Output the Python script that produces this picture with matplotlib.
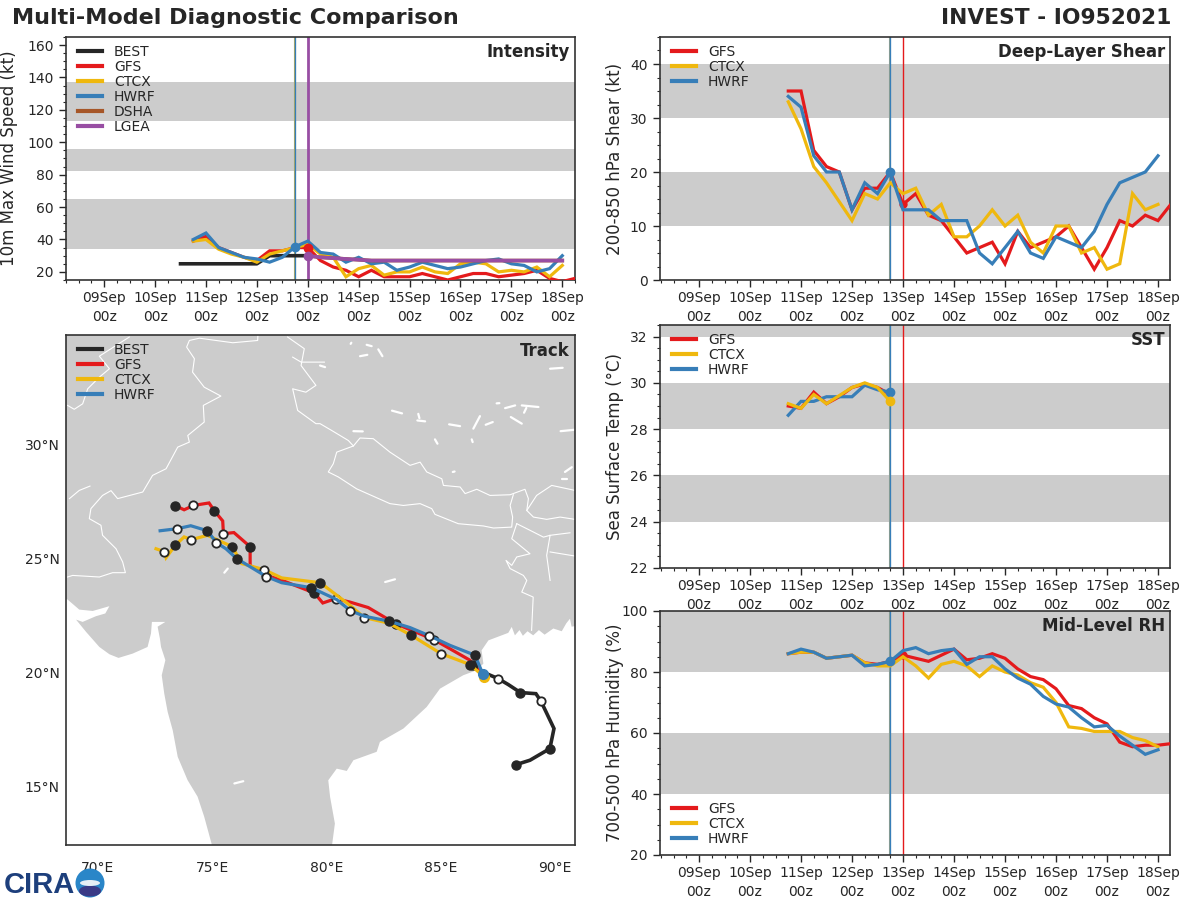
import matplotlib
matplotlib.use("Agg")
import matplotlib.pyplot as plt
import numpy as np
from matplotlib.ticker import MultipleLocator
from matplotlib.patches import Circle, Ellipse

C_BEST, C_GFS, C_CTCX, C_HWRF, C_DSHA, C_LGEA = '#262626', '#e41a1c', '#efb80e', '#377eb8', '#a65628', '#984ea3'
GRAY = '#cccccc'
TXT = '#262626'

DAY_LABELS = ['09Sep\n00z', '10Sep\n00z', '11Sep\n00z', '12Sep\n00z', '13Sep\n00z',
              '14Sep\n00z', '15Sep\n00z', '16Sep\n00z', '17Sep\n00z', '18Sep\n00z']

# forecast hours expressed as days after 09Sep 00z
T_START = 1.75
T_STEP = 0.25

# Intensity (kt)
BEST_T = [1.5, 1.75, 2.0, 2.25, 2.5, 2.75, 3.0, 3.25, 3.5, 3.75, 4.0]
BEST_V = [25, 25, 25, 25, 25, 25, 25, 30, 30, 30, 30]
INT_GFS = [39, 42, 35, 32, 29, 27, 33, 33, 35, 35, 27, 23, 21, 17, 21, 17, 17, 17, 19, 17, 15, 17, 19, 19, 17, 18, 19, 21, 16, 14, 16]
INT_CTCX = [39, 40, 34, 31, 29, 26, 31, 33, 35, 37, 31, 29, 17, 22, 24, 18, 20, 20, 23, 20, 19, 25, 26, 25, 20, 21, 20, 23, 17, 24]
INT_HWRF = [40, 44, 35, 32, 29, 28, 26, 29, 35.5, 39, 32, 31, 26, 29, 25, 26, 21, 23, 26, 24, 22, 23, 25, 27, 28, 25, 24, 20, 22, 30]
INT_DSHA = [30, 29, 28.5, 28, 27.5, 27, 27, 27, 27, 27, 27, 27, 27, 27, 27, 27, 27, 27, 27, 27, 27]
INT_LGEA = [30, 29, 28.5, 28, 27.5, 27, 27, 27, 27, 27, 27, 27, 27, 27, 27, 27, 27, 27, 27, 27, 27]

# Shear (kt)
SHR_GFS = [35, 35, 24, 21, 20, 13, 17, 17, 20, 14, 16, 12, 11, 8, 5, 6, 7, 3, 9, 6, 7, 8, 10, 6, 2, 6, 11, 10, 12, 11, 14]
SHR_CTCX = [33, 28, 21, 18, 14.5, 11, 16, 15, 18, 16, 17, 12, 14, 8, 8, 10, 13, 10, 12, 7, 5, 10, 10, 5, 6, 2, 3, 16, 13, 14]
SHR_HWRF = [34, 32, 23, 20, 20, 13, 18, 16, 20, 13, 13, 13, 11, 11, 11, 5, 3, 6, 9, 5, 4, 8, 7, 6, 9, 14, 18, 19, 20, 23]

# SST (deg C)
SST_GFS = [29.0, 28.9, 29.6, 29.1, 29.4, 29.8, 29.95, 29.8, 29.5]
SST_CTCX = [29.1, 28.9, 29.5, 29.1, 29.45, 29.8, 30.0, 29.8, 29.2]
SST_HWRF = [28.6, 29.2, 29.2, 29.4, 29.4, 29.4, 29.9, 29.7, 29.6]

# Mid-level RH (%)
RH_GFS = [86, 86.5, 86.5, 84.5, 85, 85.5, 83, 82.5, 83.5, 85.5, 84.5, 83.5, 85.5, 87.5, 84, 84.5, 86, 84.5, 81, 78.5, 77.5, 74.5, 69, 68, 65, 63, 57, 55.5, 56, 56, 56.5]
RH_CTCX = [86, 86.5, 86.5, 84.5, 85, 85.5, 83, 82, 82, 85, 82, 78, 82.5, 83.5, 82, 78.5, 82, 80, 79, 76.5, 75, 70, 62, 61.5, 60.5, 60.5, 60.5, 58.5, 57.5, 55.5]
RH_HWRF = [86, 87.5, 86.5, 84.5, 85, 85.5, 82, 82.5, 83.5, 87, 88, 86, 87, 87.5, 82.5, 85, 85, 81, 78, 76, 72, 69.5, 68.5, 65, 62, 62.5, 59, 56, 53, 54.5]

# Tracks
BEST_LON = [88.31, 88.91, 89.78, 89.96, 89.39, 89.17, 88.49, 87.96, 87.52, 86.84]
BEST_LAT = [15.95, 16.14, 16.65, 17.53, 18.73, 19.06, 19.11, 19.46, 19.72, 20.01]
BEST_FILLED, BEST_OPEN = [0, 2, 6], [4, 8]
GFS_LON = [86.84, 86.43, 86.28, 84.71, 83.03, 81.83, 81.03, 80.40, 79.84, 79.47, 78.04, 77.37, 76.66, 76.66, 75.95, 75.49, 75.46, 75.09, 74.86, 74.18, 73.77, 73.39]
GFS_LAT = [19.94, 20.34, 20.53, 21.43, 22.13, 22.84, 23.08, 23.23, 23.04, 23.48, 24.04, 24.25, 24.69, 25.51, 26.13, 26.08, 26.64, 27.09, 27.43, 27.32, 27.13, 27.31]
GFS_FILLED, GFS_OPEN = [1, 4, 9, 13, 17, 21], [3, 7, 11, 15, 19]
CTCX_LON = [86.90, 86.28, 85.01, 83.72, 82.71, 81.66, 81.03, 79.73, 78.04, 77.28, 76.29, 75.88, 74.79, 74.09, 73.77, 73.39, 72.98, 72.91, 72.54]
CTCX_LAT = [19.80, 20.34, 20.82, 21.62, 22.16, 22.40, 22.94, 23.93, 24.14, 24.50, 24.77, 25.51, 26.01, 25.82, 25.94, 25.58, 25.03, 25.29, 25.42]
CTCX_FILLED, CTCX_OPEN = [1, 3, 7, 11, 15], [2, 5, 9, 13, 17]
HWRF_LON = [86.84, 86.50, 85.41, 84.49, 83.66, 82.75, 81.66, 81.05, 80.45, 79.34, 78.04, 77.37, 76.07, 75.60, 75.18, 74.79, 74.06, 73.47, 72.72]
HWRF_LAT = [19.94, 20.75, 21.18, 21.61, 21.96, 22.24, 22.46, 22.70, 23.19, 23.71, 23.93, 24.20, 24.99, 25.42, 25.69, 26.21, 26.43, 26.30, 26.21]
HWRF_FILLED, HWRF_OPEN = [1, 5, 9, 12, 15], [3, 7, 11, 14, 17]

# Map
LAND_LON = [68.4, 68.67, 69.18, 69.77, 70.50, 70.32, 69.91, 69.33, 69.04, 69.48, 70.06, 70.50, 70.90, 71.52, 72.17, 72.32, 72.36, 72.95, 72.61, 72.71, 72.76, 72.95, 72.79, 72.90, 73.05, 73.27, 73.49, 73.92, 74.36, 74.65, 75.02,
            80.23, 80.37, 80.16, 80.08, 80.45, 80.89, 81.18, 82.20, 82.34, 83.37, 84.39, 84.97, 85.99, 86.58, 86.87, 86.79, 87.09, 87.96, 88.11, 88.25, 88.45, 88.60, 88.80, 89.05, 89.30, 89.55, 89.93, 90.30, 90.50, 90.66, 90.73, 91.10, 91.10, 68.4]
LAND_LAT = [23.3, 23.19, 22.75, 22.69, 22.90, 22.58, 22.46, 22.21, 22.31, 21.77, 21.11, 20.79, 20.63, 20.82, 21.11, 21.70, 22.21, 22.21, 22.00, 21.48, 21.11, 20.53, 19.87, 19.07, 18.26, 17.46, 16.29, 15.27, 14.54, 13.66, 12.3,
            12.3, 13.36, 14.53, 15.26, 15.77, 15.67, 16.14, 16.51, 16.94, 17.53, 18.48, 19.28, 19.87, 20.09, 20.38, 20.96, 21.40, 21.73, 21.99, 21.62, 21.85, 21.60, 21.80, 21.62, 21.85, 21.65, 21.92, 21.80, 22.15, 22.35, 22.00, 22.06, 35.0, 35.0]

BORDERS = [
    ([68.67, 68.89, 70.06, 70.64, 71.20, 71.08, 70.79, 70.20, 70.13, 69.62, 69.69, 70.20, 70.57, 70.86, 71.96, 72.39, 72.98, 73.49, 74.00, 73.93, 74.65, 74.61, 75.38, 74.65, 74.14, 74.22, 73.88, 74.00, 74.44, 75.90, 76.99, 77.0],
     [24.18, 24.25, 24.18, 24.37, 24.37, 24.84, 25.42, 26.01, 26.45, 26.74, 27.18, 27.76, 27.97, 27.62, 27.91, 28.64, 28.93, 29.88, 30.10, 30.39, 30.98, 31.71, 32.12, 32.51, 33.17, 33.76, 34.27, 34.56, 34.66, 34.46, 34.56, 34.8]),
    ([68.67, 68.96, 69.33, 69.55, 70.06, 70.50, 70.06, 70.79, 71.37],
     [31.71, 31.54, 31.78, 32.44, 32.95, 33.32, 33.87, 34.34, 34.71]),
    ([78.30, 79.03, 78.89, 79.54, 79.10, 78.52, 78.74, 79.54, 79.72, 80.23, 80.96, 81.18, 81.47, 82.05, 82.78, 83.66, 84.10, 84.39, 85.05, 85.12, 85.85, 86.07, 86.58, 87.16, 88.04, 88.69, 88.84, 88.77, 89.06, 89.64, 90.23, 90.88],
     [34.71, 34.20, 33.46, 32.59, 32.29, 32.44, 31.49, 30.91, 30.91, 30.61, 30.17, 29.93, 30.28, 30.25, 29.66, 29.08, 29.22, 28.79, 28.49, 28.20, 28.13, 27.84, 28.03, 27.76, 27.79, 28.03, 27.62, 27.10, 26.81, 26.71, 26.81, 26.71]),
    ([78.52, 78.89, 79.91], [33.83, 33.61, 33.61]),
    ([81.18, 80.45, 80.30, 80.08, 80.52, 81.32, 82.78, 83.37, 84.10, 84.61, 84.75, 85.77, 86.87, 87.31, 88.11, 88.15, 88.04, 88.18],
     [29.93, 29.66, 29.15, 28.79, 28.57, 28.05, 27.40, 27.32, 27.40, 27.18, 26.93, 26.52, 26.42, 26.33, 26.37, 26.81, 27.32, 27.79]),
    ([88.77, 89.20, 89.86, 90.88], [27.10, 27.76, 28.20, 27.98]),
    ([88.33, 88.11, 88.91, 88.33, 88.11, 87.86, 88.04, 88.62, 88.77, 88.55, 89.05, 88.98],
     [26.52, 25.86, 25.20, 25.06, 24.69, 24.91, 24.55, 24.25, 24.03, 23.52, 23.30, 21.84]),
    ([88.33, 88.91, 89.50, 89.79, 89.64, 89.79], [26.52, 26.23, 25.93, 26.01, 25.13, 24.03]),
    ([89.79, 90.88], [25.28, 25.10]),
    ([89.79, 90.66], [26.01, 26.12]),
    ([68.75, 69.18, 69.65], [27.62, 27.98, 28.17]),
]
LAKES = [
    (82.87, 31.48, 83.31, 31.36), (83.98, 31.05, 84.32, 31.01), (84.02, 31.34, 84.07, 31.15), (85.37, 30.88, 85.85, 30.80),
    (86.43, 30.69, 86.72, 31.24), (86.97, 30.86, 87.28, 30.98), (87.82, 31.59, 88.26, 31.71), (88.55, 31.71, 89.28, 31.64),
    (88.65, 31.39, 88.75, 31.60), (88.07, 31.20, 88.55, 30.91), (90.25, 30.58, 90.84, 30.64), (81.18, 30.58, 81.59, 30.57),
    (89.79, 33.32, 90.34, 33.36), (87.45, 31.80, 87.57, 31.81), (90.30, 28.46, 90.52, 28.46), (85.53, 28.79, 85.61, 28.81),
    (84.75, 30.22, 84.86, 30.03), (86.36, 30.22, 86.40, 30.10), (82.57, 23.96, 83.00, 24.08), (79.72, 33.46, 79.94, 33.39),
    (81.47, 33.87, 81.79, 33.93), (82.27, 34.17, 82.45, 33.87), (81.76, 34.37, 81.98, 34.31), (81.06, 34.41, 81.09, 34.46),
    (90.44, 28.79, 90.74, 29.00), (75.53, 24.37, 75.68, 24.55), (75.97, 15.12, 76.36, 15.22),
]
LON_TICKS = [70, 75, 80, 85, 90]
LAT_TICKS = [15, 20, 25, 30]

plt.rcParams['font.family'] = 'DejaVu Sans'
plt.rcParams['text.color'] = TXT
plt.rcParams['axes.labelcolor'] = TXT
plt.rcParams['xtick.color'] = TXT
plt.rcParams['ytick.color'] = TXT

W, H = 1200, 900
fig = plt.figure(figsize=(12, 9), dpi=100, facecolor='white')


def make_ax(x0, y0, x1, y1):
    ax = fig.add_axes([x0 / W, 1 - y1 / H, (x1 - x0) / W, (y1 - y0) / H])
    for s in ax.spines.values():
        s.set_color('#333333')
        s.set_linewidth(1.2)
    return ax


def times(vals):
    return T_START + T_STEP * np.arange(len(vals))


def ts_axes(box, xlim, ylim, ymajor, yminor, bands, ylabel, title, label_x):
    ax = make_ax(*box)
    for lo, hi in bands:
        ax.axhspan(lo, hi, color=GRAY, lw=0, zorder=0)
    ax.set_xlim(*xlim)
    ax.set_ylim(*ylim)
    ax.set_xticks(range(10))
    ax.set_xticklabels(DAY_LABELS, fontsize=10, linespacing=1.4)
    ax.xaxis.set_minor_locator(MultipleLocator(0.25))
    ax.yaxis.set_major_locator(MultipleLocator(ymajor))
    ax.yaxis.set_minor_locator(MultipleLocator(yminor))
    ax.tick_params(axis='y', which='major', length=5, width=1, labelsize=10, pad=4)
    ax.tick_params(axis='x', which='major', length=5, width=1, pad=3)
    ax.tick_params(axis='both', which='minor', length=2.5, width=0.8)
    ax.set_ylabel(ylabel, fontsize=12)
    ax.yaxis.set_label_coords((label_x - box[0]) / (box[2] - box[0]), 0.5)
    ax.text(0.99, 0.975, title, transform=ax.transAxes, ha='right', va='top',
            fontsize=12, fontweight='bold', color=TXT, zorder=9)
    return ax


def model_lines(ax, g, c, h, lw=2.3):
    ax.plot(times(g), g, color=C_GFS, lw=lw, label='GFS', zorder=3, solid_joinstyle='miter')
    ax.plot(times(c), c, color=C_CTCX, lw=lw, label='CTCX', zorder=4, solid_joinstyle='miter')
    ax.plot(times(h), h, color=C_HWRF, lw=lw, label='HWRF', zorder=5, solid_joinstyle='miter')


def vlines(ax, c1=C_GFS, w=1.0, under='#8f9f8f'):
    ax.axvline(3.75, color=under, lw=1.5, zorder=2)
    ax.axvline(3.75, color=C_HWRF, lw=0.9, zorder=2.1)
    ax.axvline(4.0, color=c1, lw=w, zorder=2)


def legend(ax, lower=False):
    bb = ax.get_window_extent()
    if lower:
        kw = dict(loc='lower left', bbox_to_anchor=(12 / bb.width, 9 / bb.height))
    else:
        kw = dict(loc='upper left', bbox_to_anchor=(12 / bb.width, 1 - 7.5 / bb.height))
    leg = ax.legend(frameon=False, fontsize=10, handlelength=1.7, handletextpad=0.9,
                    labelspacing=0.08, borderaxespad=0, borderpad=0, **kw)
    for ln in leg.get_lines():
        ln.set_linewidth(3)
    for t in leg.get_texts():
        t.set_color(TXT)
    leg.set_zorder(10)


LEFT_XLIM = (-0.75, 9.25)
RIGHT_XLIM = (-0.765, 9.235)

# Intensity
ax = ts_axes((66, 37, 575, 280), LEFT_XLIM, (15, 165), 20, 5, [(34, 65), (82, 96), (113, 137)], '10m Max Wind Speed (kt)', 'Intensity', 18)
vlines(ax, C_LGEA, 2.0, '#a8a868')
ax.plot(BEST_T, BEST_V, color=C_BEST, lw=2.6, label='BEST', zorder=3)
model_lines(ax, INT_GFS, INT_CTCX, INT_HWRF)
ax.plot(4 + T_STEP * np.arange(len(INT_DSHA)), INT_DSHA, color=C_DSHA, lw=2.6, label='DSHA', zorder=6)
ax.plot(4 + T_STEP * np.arange(len(INT_LGEA)), INT_LGEA, color=C_LGEA, lw=2.6, label='LGEA', zorder=6)
ax.plot([3.75], [INT_HWRF[8]], 'o', color=C_HWRF, ms=6, zorder=7)
ax.plot([4.0], [INT_GFS[9]], 'o', color=C_GFS, ms=6, zorder=5.5)
ax.plot([4.0], [INT_LGEA[0]], 'o', color=C_LGEA, ms=6, zorder=7)
legend(ax)

# Shear
ax = ts_axes((660, 37, 1170, 280), RIGHT_XLIM, (0, 45), 10, 2.5, [(10, 20), (30, 40)], '200-850 hPa Shear (kt)', 'Deep-Layer Shear', 624)
vlines(ax)
model_lines(ax, SHR_GFS, SHR_CTCX, SHR_HWRF)
ax.plot([4.0], [SHR_GFS[9]], 'o', color=C_GFS, ms=5, zorder=3.5)
ax.plot([3.75], [SHR_HWRF[8]], 'o', color=C_HWRF, ms=6, zorder=7)
legend(ax)

# SST
ax = ts_axes((660, 325, 1170, 568), RIGHT_XLIM, (22, 32.5), 2, 0.5, [(24, 26), (28, 30), (32, 33)], 'Sea Surface Temp (°C)', 'SST', 624)
vlines(ax)
model_lines(ax, SST_GFS, SST_CTCX, SST_HWRF)
ax.lines[-1].set_zorder(3.5)
ax.plot([3.75], [SST_HWRF[8]], 'o', color=C_HWRF, ms=6, zorder=7)
ax.plot([3.75], [SST_CTCX[8]], 'o', color=C_CTCX, ms=6, zorder=7)
legend(ax)

# RH
ax = ts_axes((660, 611, 1170, 855), RIGHT_XLIM, (20, 100), 20, 5, [(40, 60), (80, 100)], '700-500 hPa Humidity (%)', 'Mid-Level RH', 624)
vlines(ax)
model_lines(ax, RH_GFS, RH_CTCX, RH_HWRF)
ax.plot([3.75], [RH_HWRF[8]], 'o', color=C_HWRF, ms=6, zorder=7)
ax.plot([4.0], [RH_GFS[9]], 'o', color=C_GFS, ms=5, zorder=3.5)
legend(ax, lower=True)

# Track
ax = make_ax(66, 335, 575, 845)
ax.set_xlim(68.6, 90.88)
ax.set_ylim(12.42, 34.8)
ax.fill(LAND_LON, LAND_LAT, color=GRAY, lw=0, zorder=0)
for blon, blat in BORDERS:
    ax.plot(blon, blat, color='white', lw=0.8, zorder=1)
for x0, y0, x1, y1 in LAKES:
    ax.plot([x0, x1], [y0, y1], color='white', lw=1.6, solid_capstyle='round', zorder=1)


def track(lon, lat, filled, opened, color, label, z, lw=2.3):
    lon, lat = np.array(lon), np.array(lat)
    ax.plot(lon, lat, color=color, lw=lw, label=label, zorder=z, solid_joinstyle='miter')
    ax.plot(lon[filled], lat[filled], 'o', color=C_BEST, ms=6.5, zorder=z + 0.1)
    ax.plot(lon[opened], lat[opened], 'o', mfc='white', mec=C_BEST, mew=1.3, ms=6, zorder=z + 0.1)


track(BEST_LON, BEST_LAT, BEST_FILLED, BEST_OPEN, C_BEST, 'BEST', 3, 2.6)
track(GFS_LON, GFS_LAT, GFS_FILLED, GFS_OPEN, C_GFS, 'GFS', 4)
track(CTCX_LON, CTCX_LAT, CTCX_FILLED, CTCX_OPEN, C_CTCX, 'CTCX', 5)
track(HWRF_LON, HWRF_LAT, HWRF_FILLED, HWRF_OPEN, C_HWRF, 'HWRF', 6)
ax.plot(CTCX_LON[:1], CTCX_LAT[:1], 'o', color=C_CTCX, ms=7, zorder=5.5)
ax.plot(HWRF_LON[:1], HWRF_LAT[:1], 'o', color=C_HWRF, ms=7, zorder=6.5)
ax.set_xticks(LON_TICKS)
ax.set_xticklabels([f'{v}°E' for v in LON_TICKS], fontsize=10)
ax.set_yticks(LAT_TICKS)
ax.set_yticklabels([f'{v}°N' for v in LAT_TICKS], fontsize=10)
ax.tick_params(axis='both', length=0)
ax.tick_params(axis='y', pad=4.5)
ax.tick_params(axis='x', pad=11.5)
ax.text(0.99, 0.987, 'Track', transform=ax.transAxes, ha='right', va='top', fontsize=12, fontweight='bold', color=TXT, zorder=9)
legend(ax)

# Titles
fig.text(12 / W, 1 - 18 / H, 'Multi-Model Diagnostic Comparison', fontsize=16, fontweight='bold', color=TXT, va='center', ha='left')
fig.text(1171 / W, 1 - 18 / H, 'INVEST - IO952021', fontsize=15.7, fontweight='bold', color=TXT, va='center', ha='right')

# Logo
logo = fig.add_axes([0, 0, 110 / W, 34 / H])
logo.set_xlim(0, 110)
logo.set_ylim(0, 34)
logo.axis('off')
logo.text(4, 15, 'CIRA', fontsize=21, fontweight='bold', color='#1d3f7c', va='center', ha='left', family='Liberation Sans')
logo.add_patch(Circle((90, 17), 14.5, color='#2a86c8', lw=0))
logo.add_patch(Ellipse((90, 9), 22, 11, color='#3a3a86', lw=0))
logo.add_patch(Ellipse((90, 17), 20, 6, color='#e6eef5', lw=0))

fig.savefig('out.png', dpi=100, facecolor='white')
